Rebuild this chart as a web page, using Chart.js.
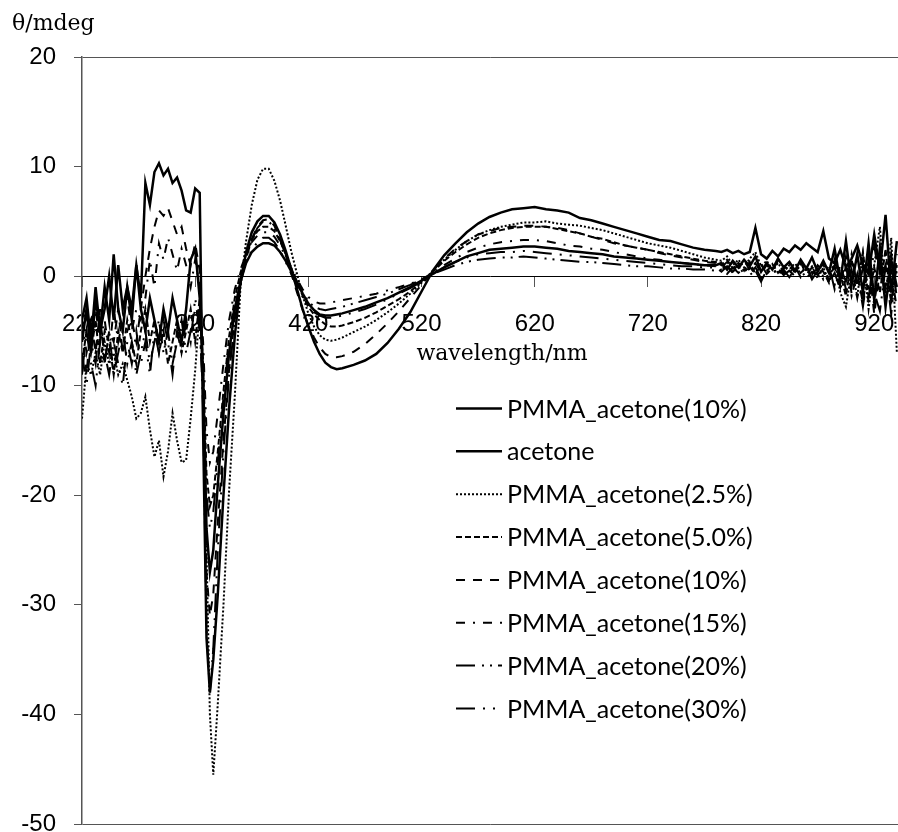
<!DOCTYPE html>
<html>
<head>
<meta charset="utf-8">
<script src="https://cdn.jsdelivr.net/npm/chart.js@4.4.0/dist/chart.umd.min.js"></script>
<style>
    html, body { margin: 0; padding: 0; background: #fff; }
    #area { width: 898px; height: 832px; position: relative; }
</style>
</head>
<body>
<div id="area"><canvas id="grafico"></canvas></div>
<script>
// comprimentos de onda (nm), passo menor onde a curva muda rapido
const comprimentoOnda = [
    220,224,228,232,236,240,244,248,252,256,260,264,268,272,276,280,284,288,292,296,300,304,308,312,316,320,324,
    327,330,333,336,340,345,350,355,360,
    365,370,375,380,385,390,395,400,405,410,415,420,425,430,435,440,445,450,
    460,470,480,490,500,510,520,530,540,550,560,570,580,590,600,610,620,630,640,650,660,670,680,690,700,710,720,730,740,750,760,770,780,
    785,790,795,800,805,810,815,820,825,830,835,840,845,850,855,860,865,870,875,880,885,890,895,900,905,910,915,920,925,930,935,940
];

const rotulos = [
    'PMMA_acetone(10%)', 'acetone', 'PMMA_acetone(2.5%)', 'PMMA_acetone(5.0%)',
    'PMMA_acetone(10%)', 'PMMA_acetone(15%)', 'PMMA_acetone(20%)', 'PMMA_acetone(30%)'
];

const ticksX = [220, 320, 420, 520, 620, 720, 820, 920];

// θ (mdeg) de cada serie
const pmma10Linha = [
    -4,-2,-6,-1,-5,-3,0,-4,1,-3,-1,-3,1,-2,8.5,6.5,9.5,10.3,9.2,9.8,8.5,9.0,7.8,6.0,5.8,8.0,7.6,
    -14,-33,-38,-35,-29,-20,-12,-5.5,-0.6,
    2.2,4.0,5.0,5.5,5.5,4.9,3.8,2.3,0.6,-1.2,-3.0,-4.6,-6.0,-7.1,-7.9,-8.3,-8.5,-8.4,
    -8.1,-7.7,-7.1,-6.1,-4.8,-3.3,-1.4,0.5,1.9,3.0,4.0,4.8,5.4,5.8,6.1,6.2,6.3,6.1,6.0,5.8,5.3,5.1,4.8,4.5,4.2,3.9,3.6,3.3,3.2,2.9,2.6,2.4,2.3,
    2.2,2.4,2.1,2.3,2.0,2.2,4.4,2.0,1.6,2.3,1.8,2.5,2.2,2.8,2.4,3.0,2.6,2.2,4.1,1.6,1.2,2.4,0.8,1.6,2.8,1.0,0.2,3.8,0.5,5.6,-1.5,3.2
];
const acetona = [
    -6,-3,-7,-2,-5,-1,-4,2,-3,-5,-1,-4,1,-3,-5,-2,-4,-6,-3,-5,-2,-4,-6,-3,1.5,2.5,-2,
    -9,-23,-27,-25,-19,-12.5,-7,-3,-0.5,
    1.2,2.2,2.7,3.0,3.0,2.8,2.2,1.4,0.4,-0.6,-1.6,-2.5,-3.1,-3.5,-3.6,-3.6,-3.5,-3.4,
    -3.1,-2.8,-2.4,-2.0,-1.5,-1.0,-0.4,0.2,0.8,1.3,1.8,2.1,2.4,2.5,2.6,2.7,2.7,2.6,2.5,2.3,2.2,2.1,2.0,1.8,1.7,1.6,1.5,1.4,1.3,1.2,1.1,1.0,1.0,
    1.2,0.6,1.4,0.8,1.5,0.9,1.8,0.4,1.2,0.6,1.6,0.8,1.3,0.5,1.5,0.7,1.7,0.4,1.4,0.3,2.5,-0.5,3.2,-0.8,2.0,-1.5,3.0,-2.2,2.6,-2.8,1.5,-1.0
];
const pmma2_5 = [
    -13,-8,-9,-7,-9,-6,-8,-7,-9,-8,-9.5,-11,-13,-12.5,-11,-14,-16.5,-15,-18.3,-16,-12.5,-15,-17,-16.8,-13,-8.6,-3,
    -8,-25,-40,-45.5,-39,-30,-19.5,-11,-1,
    3.2,6.5,8.8,9.8,9.8,8.7,6.9,4.6,2.2,0.2,-1.8,-3.4,-4.6,-5.4,-5.8,-5.9,-5.8,-5.6,
    -5.1,-4.6,-4.0,-3.3,-2.5,-1.6,-0.6,0.5,1.5,2.4,3.2,3.8,4.2,4.5,4.7,4.9,4.9,5.0,4.8,4.7,4.6,4.4,4.2,3.9,3.6,3.3,3.0,2.8,2.6,2.3,2.0,1.7,1.5,
    1.4,1.8,1.0,1.5,0.8,1.6,2.2,0.9,1.4,0.6,1.2,0.4,1.0,0.3,1.1,0.5,0.9,-0.2,0.8,-0.5,1.5,-1.5,-2.8,0.5,-1.8,2.0,-3.0,1.0,4.5,-2.0,3.5,-7.0
];
const pmma5 = [
    -8,-5,-7,-4,-8,-5,-6,-9,-5,-7,-4,-6,-8,-5,-3,-6,-4,-7,-5,-8,-6,-4,-7,-5,-3,-6,-2,
    -8,-18,-21,-20,-16,-10.5,-5.5,-2,0.3,
    2.0,3.3,4.1,4.5,4.5,4.1,3.2,2.0,0.7,-0.6,-1.8,-2.8,-3.5,-4.0,-4.4,-4.6,-4.6,-4.5,
    -4.2,-3.8,-3.3,-2.7,-2.1,-1.4,-0.5,0.4,1.4,2.2,2.9,3.5,3.9,4.2,4.4,4.5,4.5,4.5,4.3,4.1,3.9,3.6,3.4,3.1,2.8,2.6,2.4,2.2,2.0,1.8,1.6,1.4,1.3,
    1.0,1.5,0.7,1.2,0.5,1.3,0.2,1.0,0.4,1.1,0.3,0.9,0.6,1.2,0.3,0.8,0.1,1.0,0.4,-0.6,1.2,0.2,-1.8,1.5,-0.8,2.2,-2.0,0.8,-1.5,2.5,-2.5,1.0
];
const pmma10 = [
    -5,-9,-4,-7,-3,-8,-5,-6,-3,-7,-5,-4,-6,-3,0,2.5,4.5,6.0,5.5,6.2,5.0,3.8,4.5,2.5,1.0,3.0,0.5,
    -10,-27,-31,-29,-22.5,-15,-8.5,-3.8,-0.7,
    1.6,3.4,4.5,5.1,5.2,4.6,3.4,1.9,0.2,-1.5,-3.1,-4.5,-5.6,-6.5,-7.1,-7.4,-7.4,-7.3,
    -6.9,-6.2,-5.3,-4.3,-3.2,-2.0,-0.8,0.5,1.6,2.5,3.2,3.8,4.1,4.4,4.5,4.6,4.6,4.5,4.4,4.2,3.9,3.6,3.3,3.0,2.8,2.6,2.4,2.1,1.9,1.7,1.5,1.3,1.2,
    0.8,1.3,0.6,1.0,1.5,0.5,1.2,0.3,1.0,0.5,1.4,0.2,0.9,0.4,1.3,0.1,0.8,0.5,1.1,-0.4,0.9,-1.0,1.8,-1.6,0.4,-2.5,1.5,-3.5,0.5,-1.0,2.0,-2.0
];
const pmma15 = [
    -4,-7,-5,-3,-6,-4,-7,-3,-6,-4,-2,-5,-3,-4,-2,1.5,-1,3.0,1.5,3.5,2.0,0.5,2.5,1.0,-1,1.5,-1,
    -6,-14,-17,-16,-12.5,-8,-4,-1.2,0.6,
    2.0,3.1,3.7,4.0,4.0,3.6,2.8,1.8,0.8,-0.3,-1.2,-1.9,-2.3,-2.5,-2.5,-2.4,-2.3,-2.2,
    -2.0,-1.8,-1.6,-1.3,-1.0,-0.7,-0.3,0.3,1.0,1.6,2.2,2.6,2.9,3.1,3.2,3.3,3.3,3.2,3.0,2.8,2.7,2.5,2.4,2.2,2.0,1.8,1.6,1.5,1.3,1.2,1.1,1.0,0.9,
    0.6,1.0,0.4,0.9,0.2,0.8,0.3,1.1,0.2,0.7,0.0,0.8,0.3,0.9,-0.1,0.6,0.2,0.7,-0.3,0.5,-0.8,1.0,-1.2,0.6,-2.0,0.8,-1.0,-2.5,1.2,-1.5,0.5,-3.0
];
const pmma20 = [
    -9,-5,-8,-10,-6,-8,-5,-9,-7,-5,-8,-6,-9,-7,-5,-8,-6,-4,-7,-5,-8,-6,-4,-7,-5,-3,-4,
    -12,-32,-38,-34,-25,-16,-9,-4,-0.8,
    1.6,3.3,4.4,5.0,5.0,4.4,3.3,2.0,0.7,-0.5,-1.5,-2.3,-2.8,-3.0,-3.1,-3.0,-2.9,-2.8,
    -2.5,-2.2,-1.9,-1.6,-1.2,-0.8,-0.3,0.2,0.6,1.0,1.3,1.5,1.6,1.7,1.7,1.8,1.7,1.6,1.5,1.4,1.3,1.3,1.2,1.1,1.0,0.9,0.9,0.8,0.7,0.7,0.6,0.6,0.5,
    0.6,0.2,0.8,0.3,0.7,0.1,0.5,-0.5,0.6,0.2,0.7,0.1,0.5,0.0,0.6,-0.2,0.4,0.1,0.7,-0.6,0.3,-1.2,0.9,-1.8,0.2,-2.8,1.0,-1.5,-3.2,0.8,-2.2,0.5
];
const pmma30 = [
    -7,-10,-6,-8,-4,-7,-9,-6,-8,-10,-6,-8,-5,-8,-6,-9,-5,-7,-4,-6,-9,-5,-7,-4,-6,-2,-5,
    -10,-20,-23,-21.5,-17,-11,-6,-2.5,-0.2,
    1.3,2.4,3.1,3.5,3.5,3.1,2.3,1.3,0.2,-0.9,-1.9,-2.7,-3.3,-3.6,-3.8,-3.8,-3.7,-3.6,
    -3.3,-3.0,-2.6,-2.1,-1.6,-1.1,-0.5,0.2,0.8,1.3,1.7,2.0,2.1,2.2,2.2,2.3,2.2,2.1,2.0,1.9,1.8,1.7,1.6,1.5,1.4,1.3,1.2,1.1,1.0,0.9,0.9,0.8,0.8,
    0.4,0.9,0.3,0.7,1.0,0.2,0.8,-0.2,0.5,1.0,0.2,0.6,-0.1,0.7,0.2,0.9,-0.3,0.5,0.0,1.0,-1.2,0.8,-0.5,2.0,-1.0,1.2,-2.4,2.8,-0.5,1.0,-3.5,2.0
];

const series = [pmma10Linha, acetona, pmma2_5, pmma5, pmma10, pmma15, pmma20, pmma30];

// estilo de traço de cada serie (igual ao excel)
const tracos = [[], [], [2, 2], [6, 3], [9, 8], [9, 8, 2, 8], [19, 7, 2, 6, 2, 6], [19, 8, 2, 8, 2, 8]];
const espessuras = [2.5, 2.5, 2, 2, 2, 2, 2, 2];

function montarDatasets() {
    return series.map((s, i) => ({
        label: rotulos[i],
        data: comprimentoOnda.map((w, j) => ({ x: w, y: s[j] })),
        borderColor: '#000',
        borderWidth: espessuras[i],
        borderDash: tracos[i],
        pointRadius: 0,
        fill: false,
        tension: 0
    }));
}

// legenda dentro da area do grafico + titulos dos eixos
const legendaPlugin = {
    id: 'legenda',
    afterDraw(chart) {
        const ctx = chart.ctx;
        ctx.save();
        ctx.fillStyle = '#000';
        ctx.font = '22px "DejaVu Serif"';
        ctx.textBaseline = 'alphabetic';
        ctx.fillText('θ/mdeg', 12, 30);
        ctx.textAlign = 'center';
        ctx.fillText('wavelength/nm', 502, 360);

        ctx.textAlign = 'left';
        ctx.textBaseline = 'middle';
        ctx.font = '25px Lato';
        chart.data.datasets.forEach((ds, i) => {
            const y = 408.5 + i * 42.85;
            ctx.strokeStyle = '#000';
            ctx.lineWidth = ds.borderWidth;
            ctx.setLineDash(ds.borderDash);
            ctx.beginPath();
            ctx.moveTo(456, y);
            ctx.lineTo(502, y);
            ctx.stroke();
            ctx.fillText(ds.label, 507, y + 1);
        });
        ctx.restore();
    }
};

// sem folga extra das escalas: area do grafico fica 82..898 x 57..824
function semFolga(scale) {
    scale.paddingLeft = 0;
    scale.paddingRight = 0;
    scale.paddingTop = 0;
    scale.paddingBottom = 0;
}

const ctx = document.getElementById('grafico').getContext('2d');
const grafico = new Chart(ctx, {
    type: 'line',
    data: { datasets: montarDatasets() },
    options: {
        responsive: true,
        maintainAspectRatio: false,
        devicePixelRatio: 1,
        animation: false,
        layout: { padding: { top: 57, bottom: 8, left: 0, right: 0 } },
        plugins: {
            legend: { display: false },
            tooltip: { enabled: false }
        },
        scales: {
            x: {
                type: 'linear',
                min: 220,
                max: 941,
                position: { y: 0 },
                afterBuildTicks: (scale) => {
                    scale.ticks = ticksX.map(v => ({ value: v }));
                },
                afterFit: semFolga,
                grid: { drawOnChartArea: false, drawTicks: true, tickLength: 10, color: '#555' },
                border: { color: '#000', width: 1 },
                ticks: {
                    color: '#000',
                    font: { family: 'Liberation Sans', size: 24 },
                    padding: 24,
                    maxRotation: 0,
                    autoSkip: false
                }
            },
            y: {
                min: -50,
                max: 20,
                afterFit: (scale) => {
                    scale.width = 82;
                    semFolga(scale);
                },
                grid: {
                    tickLength: 8,
                    tickColor: '#555',
                    color: (c) => (c.tick && (c.tick.value === 20 || c.tick.value === -50)) ? '#555' : 'rgba(0,0,0,0)'
                },
                border: { color: '#555', width: 1.5 },
                ticks: {
                    stepSize: 10,
                    color: '#000',
                    font: { family: 'Liberation Sans', size: 24 },
                    padding: 18
                }
            }
        }
    },
    plugins: [legendaPlugin]
});
</script>
</body>
</html>
